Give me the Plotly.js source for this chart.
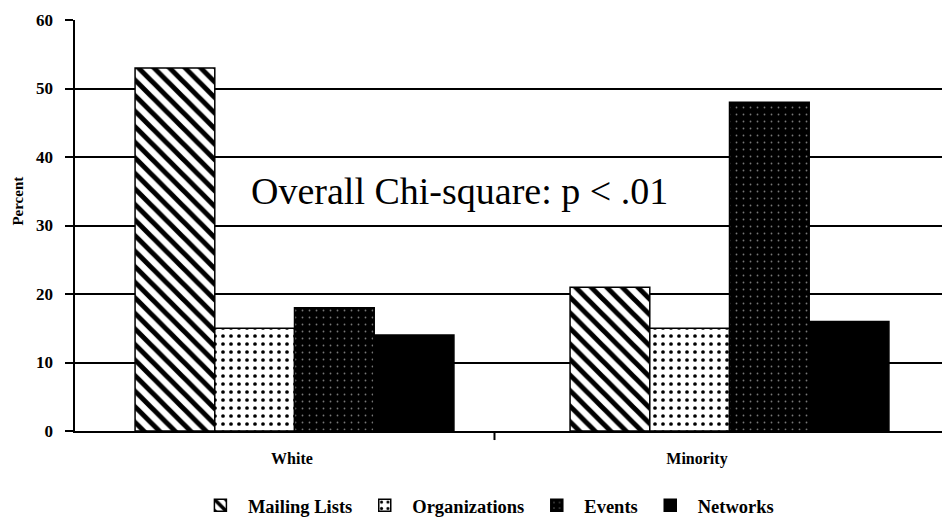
<!DOCTYPE html>
<html>
<head>
<meta charset="utf-8">
<script src="https://cdn.plot.ly/plotly-3.0.1.min.js"></script>
<style>
html,body{margin:0;padding:0;background:#fff;overflow:hidden;}
#chart{width:942px;height:525px;}
</style>
</head>
<body>
<div id="chart"></div>
<script>
// ---- data ----
var categories = ["White", "Minority"];
var seriesNames = ["Mailing Lists", "Organizations", "Events", "Networks"];
var mailingLists = [53, 21];
var organizations = [15, 15];
var events = [18, 48];
var networks = [14, 16];
var yTicks = [0, 10, 20, 30, 40, 50, 60];
var annotationText = "Overall Chi-square: p < .01";
var yTitle = "Percent";

var serif = "Liberation Serif";
var outline = {color: "#000", width: 1.5};

var traces = [
  {type: "bar", name: seriesNames[0], x: categories, y: mailingLists,
   marker: {color: "#fff", line: outline,
            pattern: {shape: "\\", fgcolor: "#000", bgcolor: "#fff", size: 11, solidity: 0.45}}},
  {type: "bar", name: seriesNames[1], x: categories, y: organizations,
   marker: {color: "#fff", line: outline,
            pattern: {shape: ".", fgcolor: "#000", bgcolor: "#fff", size: 8, solidity: 0.17}}},
  {type: "bar", name: seriesNames[2], x: categories, y: events,
   marker: {color: "#000", line: outline,
            pattern: {shape: ".", fgcolor: "#777", bgcolor: "#000", size: 7, solidity: 0.05}}},
  {type: "bar", name: seriesNames[3], x: categories, y: networks,
   marker: {color: "#000", line: outline}},
  // carrier trace for the category label axis
  {type: "scatter", mode: "none", x: categories, y: [0, 0], xaxis: "x2", yaxis: "y",
   showlegend: false, hoverinfo: "skip"}
];

var layout = {
  width: 942, height: 525,
  margin: {l: 75, r: 0, t: 20, b: 92},
  paper_bgcolor: "#fff", plot_bgcolor: "#fff",
  barmode: "group", bargap: 0.267, bargroupgap: 0,
  showlegend: true,
  font: {family: serif, color: "#000"},
  xaxis: {
    type: "category", range: [-0.5046, 1.4885],
    showticklabels: false, ticks: "", showgrid: false,
    showline: true, linecolor: "#000", linewidth: 2, zeroline: false
  },
  xaxis2: {
    type: "category", overlaying: "x", anchor: "y", side: "bottom",
    range: [-0.5358, 1.605], showgrid: false, showline: false, ticks: "",
    zeroline: false, ticklabelstandoff: 16,
    tickfont: {family: serif, size: 16, weight: 700, color: "#000"}
  },
  yaxis: {
    range: [0, 60], tickvals: yTicks, ticktext: yTicks.map(String),
    showgrid: true, gridcolor: "#000", gridwidth: 2,
    showline: true, linecolor: "#000", linewidth: 2.5,
    ticks: "outside", ticklen: 8, tickwidth: 2, tickcolor: "#000",
    ticklabelstandoff: 8, zeroline: false,
    tickfont: {family: serif, size: 17, weight: 700, color: "#000"}
  },
  legend: {
    orientation: "h", x: 0.136, xanchor: "left", y: -0.182, yanchor: "middle",
    itemwidth: 45,
    font: {family: serif, size: 18.5, weight: 700, color: "#000"},
    bgcolor: "rgba(0,0,0,0)"
  },
  shapes: [
    {type: "line", xref: "x2", yref: "paper", x0: 0.5, x1: 0.5, y0: 0, y1: -0.022,
     line: {color: "#000", width: 2}}
  ],
  annotations: [
    {text: annotationText, xref: "paper", yref: "paper", x: 0.444, y: 0.585,
     xanchor: "center", yanchor: "middle", showarrow: false,
     font: {family: serif, size: 38, color: "#000"}},
    {text: yTitle, xref: "paper", yref: "paper", x: -0.066, y: 0.56,
     xanchor: "center", yanchor: "middle", textangle: -90, showarrow: false,
     font: {family: serif, size: 15, weight: 700, color: "#000"}}
  ]
};

Plotly.newPlot("chart", traces, layout, {displayModeBar: false, staticPlot: true});
</script>
</body>
</html>
